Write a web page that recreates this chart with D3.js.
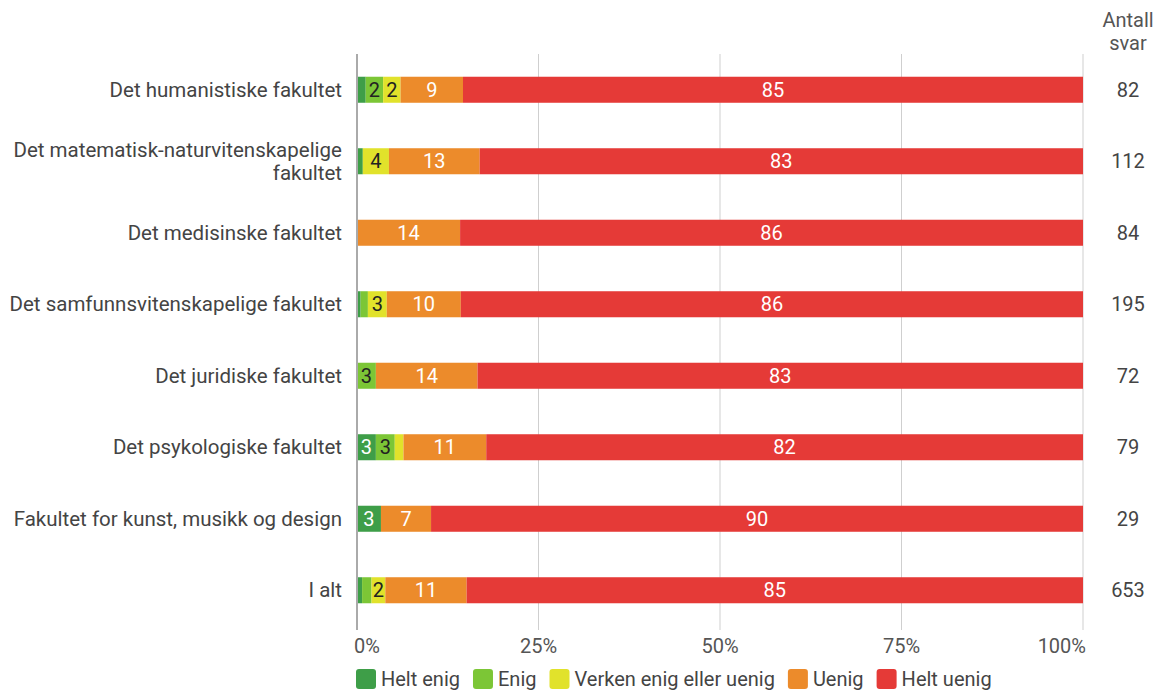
<!DOCTYPE html>
<meta charset="utf-8">
<script src="https://d3js.org/d3.v7.min.js"></script>
<style>
body { margin: 0; background: #fff; font-family: Roboto, sans-serif; }
</style>
<div id="chart"></div>
<script>

// data
var categories = [
  ["Det humanistiske fakultet"],
  ["Det matematisk-naturvitenskapelige", "fakultet"],
  ["Det medisinske fakultet"],
  ["Det samfunnsvitenskapelige fakultet"],
  ["Det juridiske fakultet"],
  ["Det psykologiske fakultet"],
  ["Fakultet for kunst, musikk og design"],
  ["I alt"]
];
var seriesNames = ["Helt enig", "Enig", "Verken enig eller uenig", "Uenig", "Helt uenig"];
var heltEnig = [1.2, 0.8, 0, 0.5, 0, 2.6, 3.3, 0.7];
var enig     = [2.4, 0, 0, 1.0, 2.6, 2.6, 0, 1.3];
var verken   = [2.4, 3.6, 0, 2.6, 0, 1.2, 0, 1.9];
var uenig    = [8.6, 12.5, 14.2, 10.2, 14.0, 11.4, 6.9, 11.2];
var heltUenig = [85.4, 83.1, 85.8, 85.7, 83.4, 82.2, 89.8, 84.9];
var antall = [82, 112, 84, 195, 72, 79, 29, 653];
var ticks = [0, 25, 50, 75, 100];

var colors = ["#3e9e48", "#7cc636", "#e1e22b", "#ec8b2b", "#e53a37"];
var labelColors = ["#fff", "#222", "#222", "#fff", "#fff"];

var fs = "20px";
var width = 1163, height = 690;
var x = d3.scaleLinear().domain([0, 100]).range([357, 1083]);
var y = d3.scaleBand().domain(d3.range(categories.length)).range([54, 626])
  .paddingInner(0.636).paddingOuter(0.318);

var svg = d3.select("#chart").append("svg")
  .attr("width", width).attr("height", height);

// grid
svg.append("g").selectAll("line").data(ticks.slice(1)).enter().append("line")
  .attr("x1", d => x(d)).attr("x2", d => x(d))
  .attr("y1", 54).attr("y2", 630)
  .attr("stroke", "#cfcfcf").attr("stroke-width", 1);

svg.append("g").selectAll("text").data(ticks).enter().append("text")
  .attr("x", d => x(d)).attr("y", 653)
  .attr("text-anchor", d => d == 0 ? "start" : (d == 100 ? "end" : "middle"))
  .attr("dx", d => d == 0 ? -3 : (d == 100 ? 3 : 0))
  .attr("fill", "#555").style("font-size", fs)
  .text(d => d + "%");

// stacked rows
var series = [heltEnig, enig, verken, uenig, heltUenig];
var rows = categories.map(function(c, i) {
  var x0 = 0;
  return series.map(function(s, k) {
    var seg = {k: k, v: s[i], x0: x0, x1: x0 + s[i], row: i};
    x0 += s[i];
    return seg;
  });
});

var bars = svg.append("g");
rows.forEach(function(segs, i) {
  var g = bars.append("g");
  g.selectAll("rect").data(segs.filter(d => d.v > 0)).enter().append("rect")
    .attr("x", d => x(d.x0)).attr("width", d => x(d.x1) - x(d.x0))
    .attr("y", y(i)).attr("height", y.bandwidth())
    .attr("fill", d => colors[d.k]);
  g.selectAll("text").data(segs.filter(d => d.v >= 1.5)).enter().append("text")
    .attr("x", d => x((d.x0 + d.x1) / 2)).attr("y", y(i) + y.bandwidth() / 2 + 7)
    .attr("text-anchor", "middle").style("font-size", fs)
    .attr("fill", d => labelColors[d.k])
    .text(d => Math.round(d.v));
});

// zero axis line
svg.append("line").attr("x1", x(0)).attr("x2", x(0)).attr("y1", 54).attr("y2", 630)
  .attr("stroke", "#aaa").attr("stroke-width", 2);

// category labels
categories.forEach(function(c, i) {
  var cy = y(i) + y.bandwidth() / 2;
  var t = svg.append("text").attr("x", 342).attr("text-anchor", "end")
    .attr("fill", "#444").style("font-size", "20.5px");
  c.forEach(function(line, j) {
    t.append("tspan").attr("x", 342)
      .attr("y", cy + 7 + (j - (c.length - 1) / 2) * 23)
      .text(line);
  });
});

// Antall svar
svg.append("text").attr("x", 1128).attr("y", 27).attr("text-anchor", "middle")
  .attr("fill", "#555").style("font-size", fs).text("Antall");
svg.append("text").attr("x", 1128).attr("y", 50).attr("text-anchor", "middle")
  .attr("fill", "#555").style("font-size", fs).text("svar");
svg.append("g").selectAll("text").data(antall).enter().append("text")
  .attr("x", 1128).attr("y", (d, i) => y(i) + y.bandwidth() / 2 + 7)
  .attr("text-anchor", "middle").attr("fill", "#444").style("font-size", fs)
  .text(d => d);

// legend
var lx = 356;
seriesNames.forEach(function(n, k) {
  svg.append("rect").attr("x", lx).attr("y", 669).attr("width", 20).attr("height", 20)
    .attr("rx", 3).attr("fill", colors[k]);
  var t = svg.append("text").attr("x", lx + 25).attr("y", 686)
    .attr("fill", "#444").style("font-size", fs).text(n);
  lx += 25 + t.node().getComputedTextLength() + 13;
});
</script>
